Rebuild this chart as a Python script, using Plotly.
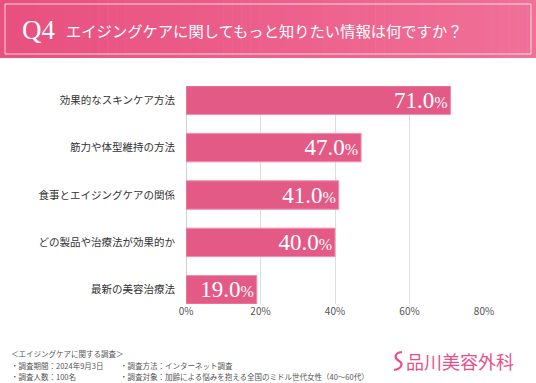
import plotly.graph_objects as go

categories = ["効果的なスキンケア方法", "筋力や体型維持の方法", "食事とエイジングケアの関係",
              "どの製品や治療法が効果的か", "最新の美容治療法"]
values = [71.0, 47.0, 41.0, 40.0, 19.0]
tick_vals = [0, 20, 40, 60, 80]
tick_text = ["0%", "20%", "40%", "60%", "80%"]

title_q = "Q4"
title_text = "エイジングケアに関してもっと知りたい情報は何ですか？"
footer_head = "＜エイジングケアに関する調査＞"
footer_col1 = ["・調査期間：2024年9月3日", "・調査人数：100名"]
footer_col2 = ["・調査方法：インターネット調査", "・調査対象：加齢による悩みを抱える全国のミドル世代女性（40～60代）"]
logo_text = "品川美容外科"

W, H = 536, 383
JP = "Noto Sans CJK JP"
SERIF = "Liberation Serif"

labels = [f"{v:.1f}<span style='font-size:16px'>%</span>" for v in values]

fig = go.Figure(go.Bar(
    y=categories, x=values, orientation="h",
    marker=dict(color="#E45A86", line=dict(color="#F28DAD", width=1)),
    text=labels, textposition="inside", insidetextanchor="end",
    textfont=dict(family=SERIF, size=23, color="white"),
    constraintext="none", cliponaxis=False, width=0.6,
    hoverinfo="skip",
))

fig.update_layout(
    width=W, height=H,
    margin=dict(l=186, r=52, t=86, b=79),
    paper_bgcolor="white", plot_bgcolor="white",
    showlegend=False,
    xaxis=dict(range=[0, 80], tickvals=tick_vals, ticktext=tick_text,
               showgrid=True, gridcolor="#DDDDDD", gridwidth=1,
               zeroline=True, zerolinecolor="#D0D0D0", zerolinewidth=1,
               tickfont=dict(family=JP, size=10, color="#555555"),
               ticks="", showline=False, fixedrange=True),
    yaxis=dict(categoryorder="array", categoryarray=categories,
               autorange=False, range=[len(categories) - 0.7, -0.3],
               tickfont=dict(family=JP, size=10.5, color="#333333"),
               ticks="outside", ticklen=8, tickcolor="rgba(0,0,0,0)",
               showgrid=False, zeroline=False, fixedrange=True),
)


def px_x(x):
    return (x - 186) / 298


def px_y(y):
    return (383 - 79 - y) / 218


# title banner gradient
shapes = []
N = 60
c0 = (232, 80, 127)
c1 = (240, 112, 152)
for i in range(N):
    t = i / (N - 1)
    c = tuple(int(round(c0[k] + (c1[k] - c0[k]) * t)) for k in range(3))
    shapes.append(dict(type="rect", xref="paper", yref="paper",
                       x0=px_x(W * i / N), x1=px_x(W * (i + 1) / N + 0.6),
                       y0=px_y(58), y1=px_y(0),
                       fillcolor=f"rgb{c}", line=dict(width=0), layer="below"))
fig.update_layout(shapes=shapes)

fig.add_shape(type="rect", xref="paper", yref="paper",
              x0=px_x(5), x1=px_x(531), y0=px_y(54), y1=px_y(4),
              line=dict(color="rgba(255,255,255,0.75)", width=1))

# logo mark
fig.add_shape(type="path", xref="paper", yref="paper",
              path=(f"M {px_x(402)},{px_y(352)} C {px_x(393)},{px_y(353)} {px_x(395)},{px_y(359)} "
                    f"{px_x(399)},{px_y(361)} C {px_x(404)},{px_y(364)} {px_x(401)},{px_y(369)} {px_x(394)},{px_y(370)}"),
              line=dict(color="#E8508A", width=2.2))

ann = []
ann.append(dict(text=title_q, x=px_x(20), y=px_y(30), xref="paper", yref="paper",
                xanchor="left", yanchor="middle", showarrow=False,
                font=dict(family=SERIF, size=27, color="white")))
ann.append(dict(text=title_text, x=px_x(64), y=px_y(30), xref="paper", yref="paper",
                xanchor="left", yanchor="middle", showarrow=False,
                font=dict(family=JP, size=15.3, color="white")))
ann.append(dict(text=footer_head, x=px_x(9), y=px_y(353), xref="paper", yref="paper",
                xanchor="left", yanchor="middle", showarrow=False,
                font=dict(family=JP, size=7.5, color="#555555")))
for i, s in enumerate(footer_col1):
    ann.append(dict(text=s, x=px_x(9), y=px_y(365 + 11 * i), xref="paper", yref="paper",
                    xanchor="left", yanchor="middle", showarrow=False,
                    font=dict(family=JP, size=7.5, color="#555555")))
for i, s in enumerate(footer_col2):
    ann.append(dict(text=s, x=px_x(118), y=px_y(365 + 11 * i), xref="paper", yref="paper",
                    xanchor="left", yanchor="middle", showarrow=False,
                    font=dict(family=JP, size=7.5, color="#555555")))
ann.append(dict(text=logo_text, x=px_x(404), y=px_y(361), xref="paper", yref="paper",
                xanchor="left", yanchor="middle", showarrow=False,
                font=dict(family=JP, size=18, color="#E8508A")))
fig.update_layout(annotations=ann)

fig.write_html("out.html", config={"displayModeBar": False},
               post_script="document.body.style.margin='0';document.body.style.overflow='hidden';")
